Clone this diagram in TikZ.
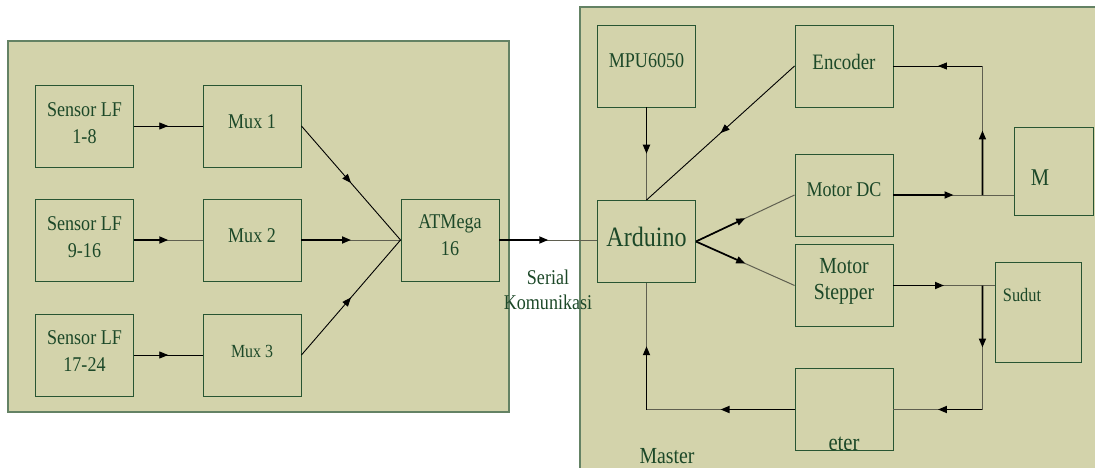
\documentclass[tikz,border=0pt]{standalone}
\usepackage{fontspec}
\setmainfont{Liberation Serif}[FakeStretch=0.86]
\usetikzlibrary{arrows.meta,decorations.markings,calc}
\definecolor{panelfill}{RGB}{211,211,171}
\definecolor{panelline}{RGB}{100,130,100}
\definecolor{boxline}{RGB}{40,85,50}
\definecolor{txt}{RGB}{28,72,40}
\definecolor{tailgray}{RGB}{95,95,80}
\newcommand\fsz[2]{\fontsize{#1}{#2}\selectfont}
\tikzset{
 box/.style={draw=boxline, line width=0.9pt, fill=panelfill, minimum width=98pt, minimum height=82pt, inner sep=0pt},
 panel/.style={draw=panelline, line width=1.3pt, fill=panelfill},
 lbl/.style={text=txt, inner sep=0pt, align=center, font=\fsz{21}{27}},
 tail/.style={draw=tailgray, line width=1pt},
 headhalf/.style={draw=black, line width=1.7pt, -{Triangle[length=9pt,width=7pt]}},
 thinconn/.style={draw=black, line width=0.9pt, postaction={decorate}, decoration={markings, mark=at position 0.5 with {\arrow{Triangle[length=9pt,width=7pt]}}}},
}
\newcommand\harrow[2]{\draw[tail] (#1) -- (#2); \draw[headhalf] (#1) -- ($(#1)!0.5!(#2)$);}
\begin{document}
\begin{tikzpicture}[x=1pt,y=-1pt]
\useasboundingbox (0,0) rectangle (1095,468);
\begin{scope}
\clip (0,0) rectangle (1095,468);
\draw[panel] (8,41) rectangle (509,412);
\draw[panel] (580,7) rectangle (1120,490);
\end{scope}
% left panel boxes
\node[box] (s1) at (84.5,126) {};
\node[box] (s2) at (84.5,240) {};
\node[box] (s3) at (84.5,355) {};
\node[box] (m1) at (252,126) {};
\node[box] (m2) at (252,240) {};
\node[box] (m3) at (252,355) {};
\node[box] (at) at (450,240) {};
% right panel boxes
\node[box] (mpu) at (646.5,66) {};
\node[box] (enc) at (844,66) {};
\node[box] (ard) at (646.5,241.5) {};
\node[box] (mdc) at (844,195) {};
\node[box] (stp) at (844,285.5) {};
\node[box] (eter) at (844,409.5) {};
\node[box, minimum width=79pt, minimum height=88pt] (M) at (1053.5,171) {};
\node[box, minimum width=86pt, minimum height=100pt] (sud) at (1038,312) {};
% labels
\node[lbl] (ts1) at (84.5,123) {Sensor LF\\1-8};
\node[lbl] (ts2) at (84.5,237) {Sensor LF\\9-16};
\node[lbl] (ts3) at (84.5,351) {Sensor LF\\17-24};
\node[lbl] (tm1) at (252,122) {Mux 1};
\node[lbl] (tm2) at (252,236) {Mux 2};
\node[lbl, font=\fsz{18.5}{22}] (tm3) at (252,351) {Mux 3};
\node[lbl] (tat) at (450,235.5) {ATMega\\16};
\node[lbl] (tmpu) at (646.5,61) {MPU6050};
\node[lbl, font=\fsz{22}{27}] (tenc) at (844,62) {Encoder};
\node[lbl, font=\fsz{28}{32}] (tard) at (646.5,237) {Arduino};
\node[lbl] (tmdc) at (844,190) {Motor DC};
\node[lbl, font=\fsz{23}{26}] (tstp) at (844,281) {Motor\\Stepper};
\node[lbl, font=\fsz{24}{28}] (tM) at (1040,178) {M};
\node[lbl, font=\fsz{19}{22}] (tsud) at (1022,295) {Sudut};
\node[lbl, font=\fsz{24}{28}] (teter) at (844,444) {eter};
\node[lbl, font=\fsz{23}{28}] (tmaster) at (667,456) {Master};
\node[lbl, font=\fsz{21}{25}] (tser) at (548,289.5) {Serial\\Komunikasi};
% coordinates
\coordinate (a1) at (at.east -| ard.west);
\coordinate (mdm) at (mdc.east -| M.west);
\path (mdc.east) ++(89,0) coordinate (j1);
\coordinate (j2) at (j1 |- enc.east);
\coordinate (ss) at (stp.east -| sud.west);
\path (stp.east) ++(89,0) coordinate (j3);
\coordinate (j4) at (j3 |- eter.east);
\coordinate (j5) at (ard.south |- eter.west);
% left connectors
\draw[thinconn] (s1.east) -- (m1.west);
\harrow{s2.east}{m2.west}
\draw[thinconn] (s3.east) -- (m3.west);
\draw[thinconn] (m1.east) -- (at.west);
\harrow{m2.east}{at.west}
\draw[thinconn] (m3.east) -- (at.west);
\harrow{at.east}{a1}
% right connectors
\harrow{mpu.south}{ard.north}
\draw[thinconn] (enc.west) -- (ard.north);
\harrow{ard.east}{mdc.west}
\harrow{ard.east}{stp.west}
\harrow{mdc.east}{mdm}
\harrow{j1}{j2}
\draw[thinconn] (j2) -- (enc.east);
\harrow{stp.east}{ss}
\harrow{j3}{j4}
\harrow{j4}{eter.east}
\harrow{eter.west}{j5}
\harrow{j5}{ard.south}
\end{tikzpicture}
\end{document}
